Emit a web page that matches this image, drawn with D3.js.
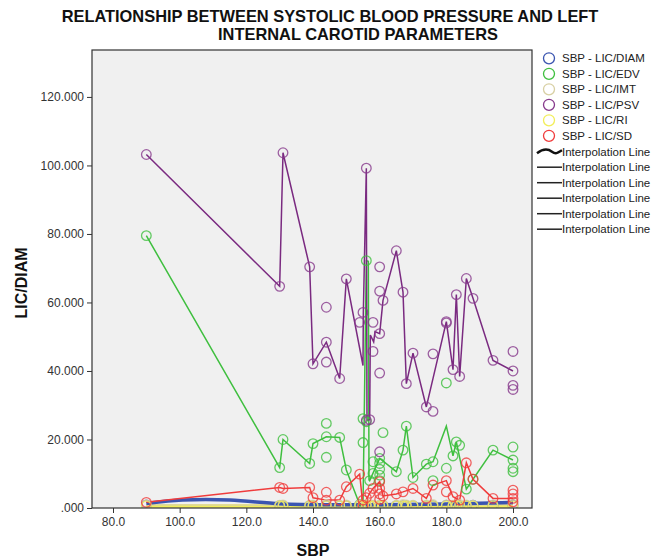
<!DOCTYPE html>
<html>
<head>
<meta charset="utf-8">
<script src="https://cdn.jsdelivr.net/npm/d3@7"></script>
<style>
  body { margin: 0; background: #fff; }
  text { font-family: "Liberation Sans", Arial, sans-serif; }
</style>
</head>
<body>
<div id="chart"></div>
<script>
// SBP vs left internal carotid parameters
var seriesNames = ["SBP - LIC/DIAM", "SBP - LIC/EDV", "SBP - LIC/IMT", "SBP - LIC/PSV", "SBP - LIC/RI", "SBP - LIC/SD"];
var seriesColors = ["#3b55b0", "#3fbf3f", "#d8d0a4", "#873a8c", "#f2ee5a", "#f03c3c"];
var xTicks = [80, 100, 120, 140, 160, 180, 200];
var yTicks = [0, 20, 40, 60, 80, 100, 120];

var sbpValues = [90,130,131,139,140,144,148,150,154,155,156,157,158,160,161,165,167,168,170,174,176,180,182,183,184,186,188,194,200];

var psvPoints = [[90,103.2],[130,64.7],[131,103.7],[139,70.4],[140,42.1],[144,58.6],[144,48.4],[144,42.6],[148,37.8],[150,66.9],
  [154,54.2],[155,57.1],[156,99.2],[156,25.6],[157,25.8],[158,54.2],[158,45.7],[160,50.9],[160,63.3],[160,39.4],[160,16.4],
  [160,70.4],[161,60.6],[165,75.1],[167,63.0],[168,36.3],[170,45.2],[174,29.5],[176,45.0],[176,28.2],[180,54.4],[180,54.0],
  [182,40.4],[183,62.3],[184,38.4],[186,67.0],[188,61.2],[194,43.1],[200,45.7],[200,40.0],[200,35.8],[200,34.6]];
var psvLine = [[90,103.2],[130,64.7],[131,103.7],[139,70.4],[140,42.1],[144,48.4],[148,37.8],[150,66.9],[155,41.6],[155.1,57.1],
  [156,99.2],[156.2,25.6],[157,25.8],[157.2,50.5],[158.2,48.5],[158.6,51.5],[160,50.9],[161,60.6],[165,75.1],[167,63.0],[168,36.3],
  [170,45.2],[174,29.5],[180,54.4],[182,40.4],[183,62.3],[184,38.4],[186,67.0],[188,61.2],[194,43.1],[200,40.0]];

var edvPoints = [[90,79.5],[130,11.8],[131,20.0],[139,13.0],[140,18.8],[144,24.7],[144,20.8],[144,14.8],[148,20.6],[150,11.1],
  [154,1.0],[155,26.1],[155,19.1],[156,72.2],[156,25.2],[157,8.0],[158,13.5],[158,10.1],[160,14.5],[160,13.0],[160,11.3],
  [160,9.6],[160,8.0],[161,22.0],[165,10.6],[167,16.9],[168,23.9],[170,8.9],[174,12.8],[176,13.5],[176,8.0],[180,36.5],
  [180,11.6],[182,15.2],[183,19.3],[184,18.3],[186,5.5],[188,8.4],[194,16.9],[200,17.8],[200,14.0],[200,11.6],[200,10.6]];
var edvLine = [[90,79.5],[130,11.8],[131,20.0],[139,13.0],[140,18.8],[144,20.8],[148,20.6],[150,11.1],[154,1.0],[155,0.5],
  [156,72.2],[156.6,72.0],[156.8,8.2],[157,8.0],[160,14.5],[165,10.6],[167,16.9],[168,23.9],[170,8.9],[174,12.8],[176,13.5],
  [180,23.9],[182,15.2],[183,19.3],[186,5.5],[188,8.4],[194,16.9],[200,14.0]];

var sdPoints = [[90,1.65],[130,6.0],[131,5.7],[139,6.0],[140,3.0],[144,4.6],[144,2.3],[148,2.3],[150,6.2],[154,9.9],[155,2.3],
  [155,0.8],[156,3.0],[157,4.3],[158,5.7],[160,7.7],[160,5.7],[160,4.1],[160,2.5],[161,3.5],[165,4.1],[167,4.7],[170,5.7],
  [174,2.8],[176,6.7],[180,8.0],[180,4.7],[182,3.3],[184,2.3],[186,13.2],[188,8.4],[194,2.8],[200,5.2],[200,4.1],[200,2.8],[200,1.8]];
var sdLine = [[90,1.65],[130,6.0],[131,5.7],[139,6.0],[140,3.0],[144,2.3],[148,2.3],[150,6.2],[154,9.9],[155,0.5],[156,2.5],
  [157,4.3],[158,5.7],[160,7.7],[161,3.5],[165,4.1],[167,4.7],[170,5.7],[174,2.8],[176,6.7],[180,8.0],[182,3.3],[184,2.3],
  [186,13.2],[188,8.4],[194,2.8],[200,2.8]];

var diamValues = [0.9,0.7,0.7,0.7,0.7,0.7,0.7,0.7,0.7,0.7,0.7,0.7,0.7,0.7,0.7,0.7,0.7,0.7,0.7,0.7,0.7,0.8,0.7,0.7,0.7,0.7,0.8,0.8,0.9];
var diamLine = [[90,1.3],[100,2.5],[115,2.6],[130,1.0],[145,0.9],[160,0.9],[180,1.1],[200,1.6]];
var imtValues = [0.9,0.8,0.9,0.8,0.9,1.0,0.8,0.9,0.9,0.8,1.0,0.9,0.8,0.9,0.9,0.8,1.0,0.9,0.8,0.9,1.0,0.9,0.8,0.9,1.0,0.9,0.8,0.9,1.0];
var riValues = [0.6,0.6,0.6,0.6,0.6,0.6,0.6,0.6,0.6,0.6,0.6,0.6,0.6,0.6,0.6,0.6,0.6,0.6,0.6,0.6,0.6,0.6,0.6,0.6,0.6,0.6,0.6,0.6,0.6];

var W = 663, H = 559;
var plot = {left: 92, right: 532, top: 50, bottom: 508};

var svg = d3.select("#chart").append("svg").attr("width", W).attr("height", H);

var x = d3.scaleLinear().domain([73.7, 205.7]).range([plot.left, plot.right]);
var y = d3.scaleLinear().domain([0, 133.7]).range([plot.bottom, plot.top]);

// title
svg.append("text").attr("x", 330).attr("y", 22).attr("text-anchor", "middle")
  .attr("font-size", 16.4).attr("font-weight", "bold").attr("fill", "#111")
  .text("RELATIONSHIP BETWEEN SYSTOLIC BLOOD PRESSURE AND LEFT");
svg.append("text").attr("x", 358).attr("y", 40).attr("text-anchor", "middle")
  .attr("font-size", 16.4).attr("font-weight", "bold").attr("fill", "#111")
  .text("INTERNAL CAROTID PARAMETERS");

svg.append("rect").attr("x", plot.left).attr("y", plot.top)
  .attr("width", plot.right - plot.left).attr("height", plot.bottom - plot.top)
  .attr("fill", "#f0f0f0");

var g = svg.append("g");
var clip = svg.append("clipPath").attr("id", "clip").append("rect")
  .attr("x", plot.left).attr("y", plot.top)
  .attr("width", plot.right - plot.left).attr("height", plot.bottom - plot.top);
g.attr("clip-path", "url(#clip)");

var lineGen = d3.line().x(d => x(d[0])).y(d => y(d[1]));

function zipVals(vals) { return sbpValues.map((s, i) => [s, vals[i]]); }

// lines
g.append("path").datum(zipVals(riValues)).attr("d", lineGen)
  .attr("fill", "none").attr("stroke", seriesColors[4]).attr("stroke-width", 3.5);
g.append("path").datum(zipVals(imtValues)).attr("d", lineGen)
  .attr("fill", "none").attr("stroke", seriesColors[2]).attr("stroke-width", 1.2);
g.append("path").datum(diamLine).attr("d", lineGen.curve(d3.curveBasis))
  .attr("fill", "none").attr("stroke", seriesColors[0]).attr("stroke-width", 3.5);
lineGen.curve(d3.curveLinear);
g.append("path").datum(edvLine).attr("d", lineGen)
  .attr("fill", "none").attr("stroke", seriesColors[1]).attr("stroke-width", 1.5);
g.append("path").datum(psvLine).attr("d", lineGen)
  .attr("fill", "none").attr("stroke", "#7a2a80").attr("stroke-width", 1.5);
g.append("path").datum(sdLine).attr("d", lineGen)
  .attr("fill", "none").attr("stroke", seriesColors[5]).attr("stroke-width", 1.5);

// points
function drawPoints(data, color) {
  g.append("g").selectAll("circle").data(data).join("circle")
    .attr("cx", d => x(d[0])).attr("cy", d => y(d[1])).attr("r", 4.8)
    .attr("fill", "none").attr("stroke", color).attr("stroke-width", 1.3).attr("stroke-opacity", 0.8);
}
drawPoints(zipVals(diamValues), seriesColors[0]);
drawPoints(edvPoints, seriesColors[1]);
drawPoints(zipVals(imtValues), seriesColors[2]);
drawPoints(psvPoints, seriesColors[3]);
drawPoints(zipVals(riValues), seriesColors[4]);
drawPoints(sdPoints, seriesColors[5]);

// frame
svg.append("rect").attr("x", plot.left).attr("y", plot.top)
  .attr("width", plot.right - plot.left).attr("height", plot.bottom - plot.top)
  .attr("fill", "none").attr("stroke", "#333").attr("stroke-width", 1.2);

// axes
var yAxis = svg.append("g").attr("transform", "translate(" + plot.left + ",0)")
  .call(d3.axisLeft(y).tickValues(yTicks).tickSize(5).tickPadding(3)
    .tickFormat(d => d3.format(".3f")(d).replace(/^0\./, ".")));
var xAxis = svg.append("g").attr("transform", "translate(0," + plot.bottom + ")")
  .call(d3.axisBottom(x).tickValues(xTicks).tickSize(5).tickPadding(4).tickFormat(d3.format(".1f")));
[yAxis, xAxis].forEach(a => {
  a.select(".domain").remove();
  a.selectAll(".tick line").attr("stroke", "#333");
  a.selectAll(".tick text").attr("font-size", 12).attr("fill", "#333")
    .attr("font-family", "'Liberation Sans', Arial, sans-serif");
});

svg.append("text").attr("transform", "translate(27,283) rotate(-90)").attr("text-anchor", "middle")
  .attr("font-size", 16).attr("font-weight", "bold").attr("fill", "#111").text("LIC/DIAM");
svg.append("text").attr("x", 313).attr("y", 556).attr("text-anchor", "middle")
  .attr("font-size", 16).attr("font-weight", "bold").attr("fill", "#111").text("SBP");

// legend
var leg = svg.append("g");
seriesNames.forEach((name, i) => {
  var ly = 58.3 + i * 15.5;
  leg.append("circle").attr("cx", 549).attr("cy", ly).attr("r", 5.5)
    .attr("fill", "none").attr("stroke", seriesColors[i]).attr("stroke-width", 1.3);
  leg.append("text").attr("x", 562).attr("y", ly + 4).attr("font-size", 11.5).attr("fill", "#222").text(name);
});
for (var i = 0; i < 6; i++) {
  var ly = 151.7 + i * 15.5;
  if (i === 0) {
    leg.append("path").attr("d", "M537," + (ly + 1.5) + " C543," + (ly - 3) + " 548," + (ly - 3) + " 552," + ly + " S558," + (ly + 1) + " 562," + (ly - 1.5))
      .attr("fill", "none").attr("stroke", "#111").attr("stroke-width", 2.5);
  } else {
    leg.append("line").attr("x1", 537).attr("x2", 562).attr("y1", ly).attr("y2", ly)
      .attr("stroke", "#222").attr("stroke-width", 1.5);
  }
  leg.append("text").attr("x", 562).attr("y", ly + 4).attr("font-size", 11.5).attr("fill", "#222").text("Interpolation Line");
}
</script>
</body>
</html>
